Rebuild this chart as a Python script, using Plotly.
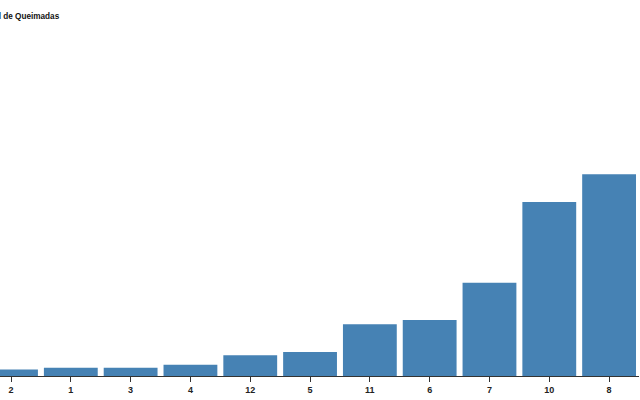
import plotly.graph_objects as go

meses = ["2", "1", "3", "4", "12", "5", "11", "6", "7", "10", "8"]
queimadas = [650, 830, 830, 1130, 2070, 2400, 5170, 5600, 9330, 17400, 20170]
titulo = "Total de Queimadas"

fig = go.Figure(go.Bar(
    x=meses, y=queimadas,
    marker=dict(color="#4682b4", line=dict(width=0)),
    hoverinfo="skip",
))

fig.update_layout(
    width=640, height=400,
    margin=dict(l=0, r=1, t=0, b=24),
    paper_bgcolor="white", plot_bgcolor="white",
    bargap=0.1,
    showlegend=False,
    font=dict(family="Liberation Sans, Arial, sans-serif", color="#222"),
    xaxis=dict(
        type="category", range=[-0.184, 10.5],
        showgrid=False, zeroline=False,
        showline=True, linecolor="#333", linewidth=1,
        ticks="outside", ticklen=5, tickcolor="#333", tickwidth=1,
        tickfont=dict(size=9, color="#222", family="Liberation Sans, Arial, sans-serif", weight="bold"),
    ),
    yaxis=dict(range=[0, 37600], visible=False, showgrid=False, zeroline=False),
    annotations=[dict(
        text="<b>" + titulo + "</b>", xref="paper", yref="paper",
        x=-20 / 639, y=1 - 10 / 376, xanchor="left", yanchor="top",
        showarrow=False, font=dict(size=8.2, color="#111"),
    )],
)

fig.write_html(
    "out.html",
    config={"displayModeBar": False},
    post_script="document.body.style.margin='0';document.body.style.overflow='hidden';",
)
